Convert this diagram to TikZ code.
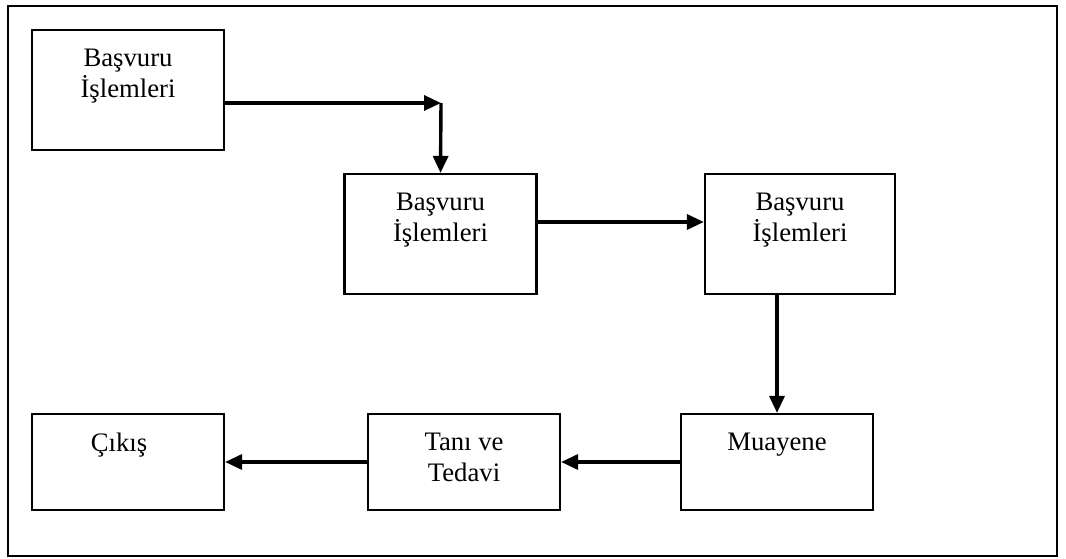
\documentclass[tikz,border=0pt]{standalone}
\usepackage{fontspec}
\setmainfont{Liberation Serif}
\usetikzlibrary{arrows.meta}

\begin{document}
\begin{tikzpicture}[x=1pt,y=-1pt,
   box/.style={draw,line width=2.2pt,minimum width=192pt,minimum height=#1,inner sep=0pt},
   box/.default=120pt,
   txt/.style={anchor=north,yshift=-20pt,align=center,inner sep=0pt,
      font=\fontsize{26.7}{31}\selectfont},
   arr/.style={line width=3.4pt,-{Triangle[length=17pt,width=15pt]}}]
\useasboundingbox (0,0) rectangle (1066,559);
\draw[line width=2pt] (8,6) rectangle (1057,556);

\node[box,label={[txt]north:{Başvuru\\İşlemleri}}] (basvuru1) at (128,90) {};
\node[box,label={[txt]north:{Başvuru\\İşlemleri}}] (basvuru2) at (440.5,234) {};
\node[box,minimum width=190pt,label={[txt]north:{Başvuru\\İşlemleri}}] (basvuru3) at (800,234) {};
\node[box=96pt,label={[txt]north:{Muayene}}] (muayene) at (777,462) {};
\node[box=96pt,label={[txt]north:{Tanı ve\\Tedavi}}] (tedavi) at (464,462) {};
\node[box=96pt,label={[txt,xshift=-9pt]north:{Çıkış}}] (cikis) at (128,462) {};

\coordinate (kose) at (441,103);
\draw[arr] (basvuru1.east |- kose) -- (kose);
\draw[arr] (kose) -- (basvuru2.north);
\draw[arr] ([yshift=12pt]basvuru2.east) -- ([yshift=12pt]basvuru3.west);
\draw[arr] (muayene.north |- basvuru3.south) -- (muayene.north);
\draw[arr] (muayene.west) -- (tedavi.east);
\draw[arr] (tedavi.west) -- (cikis.east);

\end{tikzpicture}
\end{document}
